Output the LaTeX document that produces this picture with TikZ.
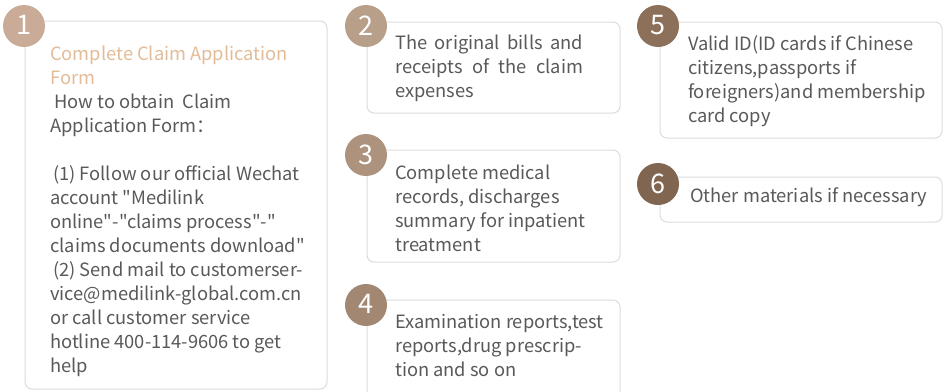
\documentclass[tikz,border=0pt]{standalone}
\usepackage{fontspec}
\setmainfont{Noto Sans CJK SC}[Ligatures=TeXOff]
\definecolor{txt}{HTML}{595959}
\definecolor{ttl}{HTML}{E2BC98}
\definecolor{bord}{HTML}{DCDCDC}
\definecolor{cA}{HTML}{C9AB97}
\definecolor{cB}{HTML}{B89F89}
\definecolor{cC}{HTML}{AD937D}
\definecolor{cD}{HTML}{A28872}
\definecolor{cE}{HTML}{8C7059}
\definecolor{cF}{HTML}{806550}
\tikzset{
  card/.style={draw=bord, line width=1pt, rounded corners=7pt, fill=white},
  badge/.style={circle, minimum size=42pt, inner sep=0pt, text=white, font=\fontsize{27}{27}\selectfont},
  body/.style={anchor=north west, inner sep=0pt, text=txt, align=left, font=\fontsize{18.3}{24}\selectfont},
}
\begin{document}
\begin{tikzpicture}[x=1pt,y=-1pt]
\useasboundingbox (0,0) rectangle (944,391);
\begin{scope}
\clip (0,0) rectangle (944,391);
\fill[white] (0,0) rectangle (944,391);
% cards
\draw[card] (25,21) rectangle (327,389);
\draw[card] (367,22) rectangle (620,113);
\draw[card] (367,150) rectangle (620,262);
\draw[card] (367,300) rectangle (620,400);
\draw[card] (660,22) rectangle (942,138);
\draw[card] (660,177) rectangle (942,222);
% badges
\node[badge, fill=cA] (b1) at (24,26) {\raisebox{1.5pt}{1}};
\node[badge, fill=cB] (b2) at (366,26) {\raisebox{1.5pt}{2}};
\node[badge, fill=cC] (b3) at (366,155) {\raisebox{1.5pt}{3}};
\node[badge, fill=cD] (b4) at (366,305) {\raisebox{1.5pt}{4}};
\node[badge, fill=cE] (b5) at (658,26) {\raisebox{1.5pt}{5}};
\node[badge, fill=cF] (b6) at (658,184) {\raisebox{1.5pt}{6}};
% texts
\node[body] (t1) at (50,46) {\textcolor{ttl}{Complete Claim Application}\\
\textcolor{ttl}{Form}\\
\ How to obtain\ \ Claim\\
Application Form：\\
\strut\\
\hspace{3pt}(1) Follow our official Wechat\\
account "Medilink\\
online"-"claims process"-"\\
claims documents download"\\
\hspace{3pt}(2) Send mail to customerser-\\
vice@medilink-global.com.cn\\
or call customer service\\
hotline 400-114-9606 to get\\
help};
\node[body] (t2) at (395,35) {\hbox to 188pt{The\hfill original\hfill bills\hfill and}\\
\hbox to 188pt{receipts\hfill of\hfill the\hfill claim}\\
expenses};
\node[body] (t3) at (395,165) {Complete medical\\
records, discharges\\
summary for inpatient\\
treatment};
\node[body] (t4) at (395,314) {Examination reports,test\\
reports,drug prescrip-\\
tion and so on};
\node[body] (t5) at (688,35) {Valid ID(ID cards if Chinese\\
citizens,passports if\\
foreigners)and membership\\
card copy};
\node[body] (t6) at (690,187) {Other materials if necessary};
\end{scope}
\end{tikzpicture}
\end{document}
